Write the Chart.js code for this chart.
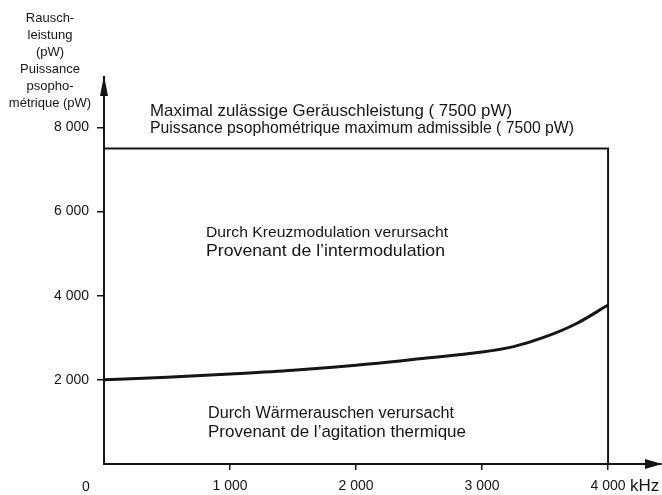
<!DOCTYPE html>
<html>
<head>
<meta charset="utf-8">
<script src="https://cdn.jsdelivr.net/npm/chart.js@4.4.1/dist/chart.umd.min.js"></script>
<style>
  html, body { margin: 0; padding: 0; background: #fff; }
  #chart { display: block; }
</style>
</head>
<body>
<canvas id="chart" width="662" height="495"></canvas>
<script>
// Frequenz (kHz) / Rauschleistung (pW)
const freqKHz = [0, 500, 1000, 1500, 2000, 2500, 3000, 3250, 3500, 3750, 4000];
const noisePW = [2000, 2060, 2140, 2230, 2350, 2500, 2660, 2790, 3020, 3340, 3780];

// max. permissible noise power and end of band
const limitPW = 7500;
const bandEndKHz = 4000;

// axes
const xTicks = [0, 1000, 2000, 3000, 4000];
const yTicks = [0, 2000, 4000, 6000, 8000];
const xMax = 4420;
const yMax = 9200;

const yTitle = ['Rausch-', 'leistung', '(pW)', 'Puissance', 'psopho-', 'métrique (pW)'];
const xUnit = 'kHz';

const FONT = '"Liberation Sans", "DejaVu Sans", Arial, sans-serif';
const INK = '#151515';

// "4 000" style labels
function fmt(v) {
    if (v < 1000) return String(v);
    return Math.floor(v / 1000) + ' ' + String(v % 1000).padStart(3, '0');
}

// text drawn at a given left edge / baseline, stretched to a target width
function fitText(ctx, text, x, y, size, width) {
    ctx.save();
    ctx.font = size + 'px ' + FONT;
    const w = ctx.measureText(text).width;
    ctx.translate(x, y);
    ctx.scale(width / w, 1);
    ctx.textAlign = 'left';
    ctx.textBaseline = 'alphabetic';
    ctx.fillText(text, 0, 0);
    ctx.restore();
}

const decorations = {
    id: 'decorations',
    afterDraw(chart) {
        const ctx = chart.ctx;
        const x = chart.scales.x;
        const y = chart.scales.y;
        const x0 = x.getPixelForValue(0);
        const y0 = y.getPixelForValue(0);

        ctx.save();
        ctx.fillStyle = INK;

        // arrow heads
        const top = chart.chartArea.top;
        ctx.beginPath();
        ctx.moveTo(x0, top - 2);
        ctx.lineTo(x0 - 4, top + 19);
        ctx.lineTo(x0 + 4, top + 19);
        ctx.closePath();
        ctx.fill();

        const right = chart.width;
        ctx.beginPath();
        ctx.moveTo(right, y0);
        ctx.lineTo(right - 17, y0 - 5);
        ctx.lineTo(right - 17, y0 + 5);
        ctx.closePath();
        ctx.fill();

        // y axis title
        ctx.font = '13px ' + FONT;
        ctx.textAlign = 'center';
        ctx.textBaseline = 'middle';
        yTitle.forEach((line, i) => ctx.fillText(line, 50, 18 + i * 17));

        // origin and unit
        ctx.font = '14px ' + FONT;
        ctx.fillText('0', 86, 487);
        ctx.font = '17px ' + FONT;
        ctx.textAlign = 'left';
        ctx.textBaseline = 'alphabetic';
        ctx.fillText(xUnit, 630, 491);

        // annotations
        fitText(ctx, 'Maximal zulässige Geräuschleistung ( 7500 pW)', 150, 116, 17, 362);
        fitText(ctx, 'Puissance psophométrique maximum admissible ( 7500 pW)', 150, 133, 17, 424);
        fitText(ctx, 'Durch Kreuzmodulation verursacht', 206, 237, 15, 242);
        fitText(ctx, 'Provenant de l’intermodulation', 206, 256, 17, 239);
        fitText(ctx, 'Durch Wärmerauschen verursacht', 208, 418, 16, 246);
        fitText(ctx, 'Provenant de l’agitation thermique', 208, 437, 17, 258);

        ctx.restore();
    }
};

const tickColor = c => (c.tick && c.tick.value === 0) ? 'rgba(0,0,0,0)' : INK;

new Chart(document.getElementById('chart'), {
    type: 'line',
    data: {
        datasets: [{
            data: freqKHz.map((f, i) => ({ x: f, y: noisePW[i] })),
            borderColor: INK,
            borderWidth: 3,
            pointRadius: 0,
            cubicInterpolationMode: 'monotone',
            fill: false
        }, {
            data: [
                { x: 0, y: limitPW },
                { x: bandEndKHz, y: limitPW },
                { x: bandEndKHz, y: 0 }
            ],
            borderColor: INK,
            borderWidth: 2,
            pointRadius: 0,
            tension: 0,
            fill: false
        }]
    },
    options: {
        responsive: false,
        animation: false,
        layout: { padding: { top: 77, right: 1, left: 0, bottom: 0 } },
        plugins: {
            legend: { display: false },
            tooltip: { enabled: false }
        },
        scales: {
            x: {
                type: 'linear',
                min: 0,
                max: xMax,
                afterBuildTicks: s => { s.ticks = xTicks.map(v => ({ value: v })); },
                afterFit: s => { s.height = 31; },
                grid: { drawOnChartArea: false, drawTicks: true, tickLength: 6, color: tickColor, lineWidth: 1.5 },
                border: { display: true, color: INK, width: 2 },
                ticks: {
                    callback: v => v === 0 ? '' : fmt(v),
                    font: { size: 14, family: FONT },
                    color: INK,
                    padding: 8,
                    maxRotation: 0,
                    autoSkip: false
                }
            },
            y: {
                type: 'linear',
                min: 0,
                max: yMax,
                afterBuildTicks: s => { s.ticks = yTicks.map(v => ({ value: v })); },
                afterFit: s => { s.width = 104; },
                grid: { drawOnChartArea: false, drawTicks: true, tickLength: 7, color: tickColor, lineWidth: 1.5 },
                border: { display: true, color: INK, width: 2 },
                ticks: {
                    callback: v => v === 0 ? '' : fmt(v),
                    font: { size: 14, family: FONT },
                    color: INK,
                    padding: 8,
                    autoSkip: false
                }
            }
        }
    },
    plugins: [decorations]
});
</script>
</body>
</html>
